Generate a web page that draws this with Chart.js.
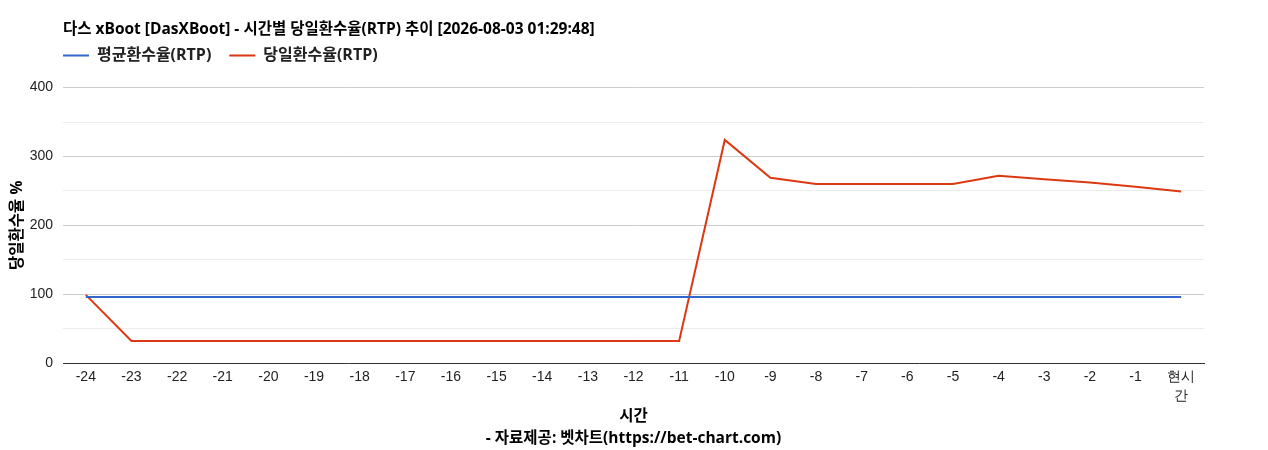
<!DOCTYPE html>
<html>
<head>
<meta charset="utf-8">
<script src="https://cdn.jsdelivr.net/npm/chart.js@4/dist/chart.umd.min.js"></script>
<style>
html,body{margin:0;padding:0;background:#fff;}
#wrap{width:1268px;height:450px;position:relative;}
</style>
</head>
<body>
<div id="wrap"><canvas id="c"></canvas></div>
<script>
const titleText = "다스 xBoot [DasXBoot] - 시간별 당일환수율(RTP) 추이 [2026-08-03 01:29:48]";
const categories = ["-24","-23","-22","-21","-20","-19","-18","-17","-16","-15","-14","-13","-12","-11","-10","-9","-8","-7","-6","-5","-4","-3","-2","-1",["현시","간"]];
const avgRTP = [96,96,96,96,96,96,96,96,96,96,96,96,96,96,96,96,96,96,96,96,96,96,96,96,96];
const dailyRTP = [99,32,32,32,32,32,32,32,32,32,32,32,32,32,324,269,260,260,260,260,272,267,262,256,249];
const yTitle = "당일환수율 %";
const xTitle = ["시간", "- 자료제공: 벳차트(https://bet-chart.com)"];

const KR = "'Open Sans', 'Noto Sans CJK KR', sans-serif";
const AR = "'Liberation Sans', Arial, sans-serif";

const alignLeftPlugin = {
  id: 'alignLeft',
  beforeLayout(chart) {
    const lg = chart.legend;
    if (lg && !lg._patched) {
      const f = lg.fit.bind(lg);
      lg.fit = function () { f(); this.height += 14; };
      lg._patched = true;
    }
  },
  afterLayout(chart) {
    const l = chart.chartArea.left;
    if (chart.titleBlock) chart.titleBlock.left = l;
    if (chart.legend) chart.legend.left = l - 18;
  }
};

new Chart(document.getElementById('c'), {
  type: 'line',
  data: {
    labels: categories,
    datasets: [
      { label: '평균환수율(RTP)', data: avgRTP, borderColor: '#3366cc', backgroundColor: '#3366cc', borderWidth: 2, pointRadius: 0, tension: 0 },
      { label: '당일환수율(RTP)', data: dailyRTP, borderColor: '#dc3912', backgroundColor: '#dc3912', borderWidth: 2, pointRadius: 0, tension: 0 }
    ]
  },
  options: {
    responsive: true,
    maintainAspectRatio: false,
    animation: false,
    layout: { padding: { top: 20, right: 64, left: 8, bottom: 1 } },
    plugins: {
      title: { display: true, text: titleText, align: 'start', color: '#000', font: { family: KR, size: 15.5, weight: 'bold', lineHeight: 1.2 }, padding: { top: 0, bottom: -9 } },
      legend: {
        display: true, align: 'start',
        labels: { color: '#222', font: { family: KR, size: 16, weight: 'bold' }, usePointStyle: true, pointStyle: 'line', pointStyleWidth: 26, boxHeight: 8, padding: 18 }
      },
      tooltip: { enabled: false }
    },
    scales: {
      x: {
        offset: true,
        afterFit(scale) { scale.height = 86; },
        grid: { display: false, drawTicks: false },
        border: { display: true, color: '#333', width: 1 },
        ticks: { color: '#222', font: { family: AR, size: 14, lineHeight: 1.4 }, padding: 4, maxRotation: 0, autoSkip: false },
        title: { display: true, text: xTitle, color: '#000', font: { family: KR, size: 15.5, weight: 'bold', lineHeight: 1.4 }, padding: { top: 0, bottom: 0 } }
      },
      y: {
        min: 0, max: 400,
        afterFit(scale) { scale.width = 55; },
        ticks: { stepSize: 50, color: '#222', font: { family: AR, size: 14 }, padding: 10,
          callback: v => (v % 100 === 0 ? String(v) : '') },
        grid: { drawTicks: false, color: ctx => (ctx.tick && ctx.tick.value % 100 === 0 ? '#cccccc' : '#ebebeb') },
        border: { display: false },
        title: { display: true, text: yTitle, color: '#000', font: { family: KR, size: 15.5, weight: 'bold' }, padding: { top: 0, bottom: 0 } }
      }
    }
  },
  plugins: [alignLeftPlugin]
});
</script>
</body>
</html>
